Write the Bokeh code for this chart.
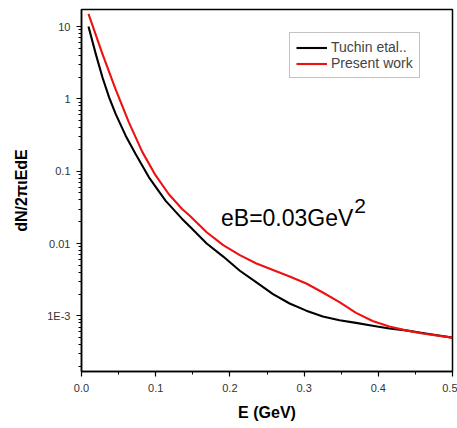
from bokeh.plotting import figure
from bokeh.models import (FixedTicker, CustomJSTickFormatter, PrintfTickFormatter,
                          Legend, LegendItem, Label, Range1d)
from bokeh.embed import file_html
from bokeh.resources import INLINE

# Tuchin et al. curve
e_tuchin = [0.0094, 0.0192, 0.0282, 0.0372, 0.046, 0.0595, 0.0729, 0.0909, 0.1132,
            0.1356, 0.1463, 0.1687, 0.191, 0.2134, 0.2358, 0.2581, 0.2805, 0.303,
            0.3252, 0.3477, 0.370, 0.3923, 0.4148, 0.4372, 0.4595, 0.4997]
y_tuchin = [10.0, 4.19, 1.99, 1.05, 0.62, 0.31, 0.173, 0.0824, 0.0392,
            0.0219, 0.017, 0.0100, 0.0066, 0.0042, 0.0029, 0.0020, 0.00148, 0.00118,
            0.00098, 0.00087, 0.00080, 0.00073, 0.00067, 0.00063, 0.00058, 0.00050]

# Present work curve
e_present = [0.0094, 0.0282, 0.046, 0.064, 0.0819, 0.0997, 0.1177, 0.1356, 0.1463,
             0.1687, 0.191, 0.2134, 0.2358, 0.2581, 0.2805, 0.303, 0.3252, 0.3477,
             0.370, 0.3923, 0.4148, 0.4372, 0.4595, 0.4997]
y_present = [15.0, 4.19, 1.35, 0.47, 0.185, 0.088, 0.048, 0.030, 0.024,
             0.0143, 0.0095, 0.0069, 0.0053, 0.0043, 0.0035, 0.0028, 0.0021, 0.00155,
             0.0011, 0.00085, 0.00071, 0.00063, 0.00057, 0.00050]

x_ticks = [0.0, 0.1, 0.2, 0.3, 0.4, 0.5]
x_minor = [0.05, 0.15, 0.25, 0.35, 0.45]
y_ticks = [1e-3, 1e-2, 1e-1, 1.0, 10.0]

FONT = "Liberation Sans"

p = figure(width=457, height=428, y_axis_type="log",
           x_range=Range1d(0.0, 0.5), y_range=Range1d(1.7e-4, 17.2),
           output_backend="svg", toolbar_location=None,
           min_border_left=81, min_border_right=5, min_border_top=9, min_border_bottom=57)

p.xgrid.visible = False
p.ygrid.visible = False
p.outline_line_color = "black"
p.outline_line_width = 1.5
p.background_fill_color = "white"
p.border_fill_color = "white"

r1 = p.line(e_tuchin, y_tuchin, line_color="black", line_width=2.1, line_join="round")
r2 = p.line(e_present, y_present, line_color="#ee1111", line_width=2.1, line_join="round")

# axes
xa = p.xaxis[0]
xa.ticker = FixedTicker(ticks=x_ticks, minor_ticks=x_minor)
xa.formatter = PrintfTickFormatter(format="%.1f")
ya = p.yaxis[0]
ya.ticker = FixedTicker(ticks=y_ticks,
                        minor_ticks=[k * 10.0 ** e for e in range(-4, 2) for k in range(2, 10)])
ya.formatter = CustomJSTickFormatter(code="""
const e = Math.round(Math.log10(tick));
if (e <= -3) return '1E' + e;
if (e < 0) return tick.toFixed(-e);
return tick.toFixed(0);
""")

for ax in (xa, ya):
    ax.axis_line_width = 1.5
    ax.axis_line_color = "black"
    ax.major_tick_in = 0
    ax.major_tick_out = 5
    ax.minor_tick_in = 0
    ax.minor_tick_out = 3
    ax.major_tick_line_width = 1.2
    ax.minor_tick_line_width = 1
    ax.major_label_text_font = FONT
    ax.major_label_text_font_size = "11px"
    ax.major_label_text_color = "#333333"
    ax.axis_label_text_font = FONT
    ax.axis_label_text_font_style = "bold"
    ax.axis_label_text_color = "black"

xa.axis_label = "E (GeV)"
xa.axis_label_text_font_size = "16px"
xa.major_label_standoff = 7
xa.axis_label_standoff = 9

ya.axis_label = "dN/2πιEdE"
ya.axis_label_text_font_size = "16px"
ya.major_label_standoff = 6
ya.axis_label_standoff = 14

legend = Legend(items=[LegendItem(label="Tuchin etal..", renderers=[r1]),
                       LegendItem(label="Present work", renderers=[r2])],
                location=(208, 293), label_text_font=FONT, label_text_font_size="14px",
                glyph_width=31, glyph_height=15, label_height=15, label_standoff=4,
                spacing=0, padding=6, margin=0,
                border_line_color="#888888", border_line_width=1,
                background_fill_alpha=1.0)
p.add_layout(legend)

p.add_layout(Label(x=0.188, y=0.0228, text="eB=0.03GeV", text_font=FONT,
                   text_font_size="23px", text_baseline="alphabetic", text_color="black"))
p.add_layout(Label(x=0.3675, y=0.0334, text="2", text_font=FONT,
                   text_font_size="21px", text_baseline="alphabetic", text_color="black"))

open("out.html", "w").write(file_html(p, INLINE))
